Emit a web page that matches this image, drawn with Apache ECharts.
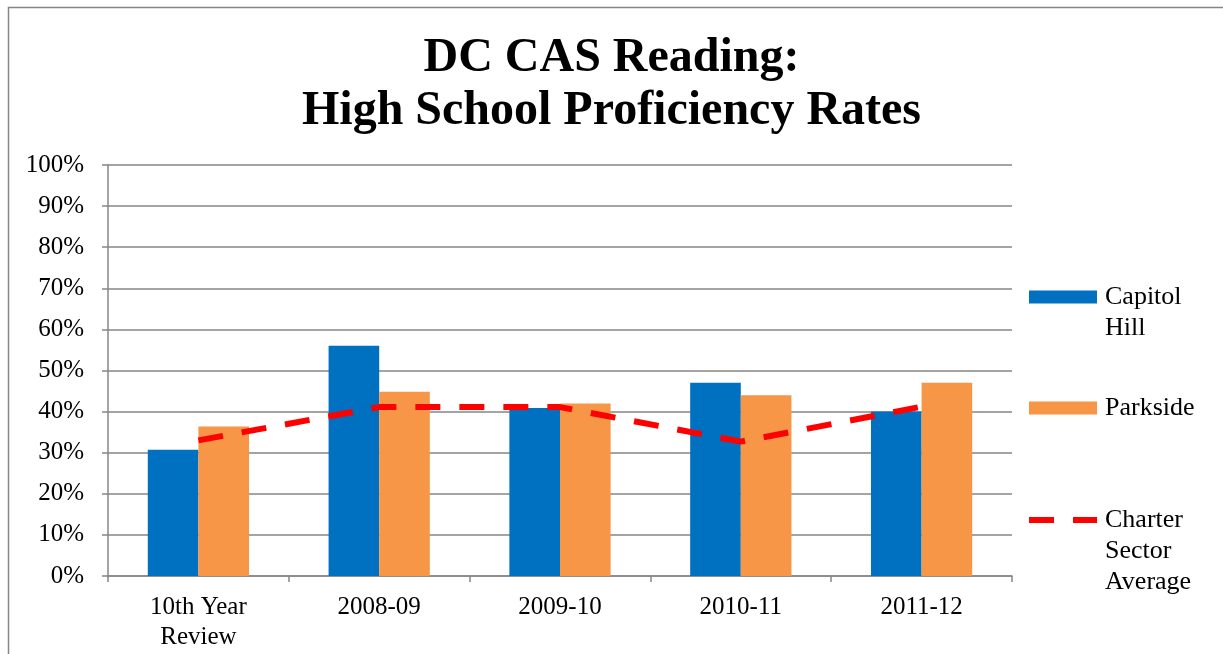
<!DOCTYPE html>
<html>
<head>
<meta charset="utf-8">
<script src="https://cdn.jsdelivr.net/npm/echarts@6/dist/echarts.min.js"></script>
<style>
  html, body { margin: 0; padding: 0; background: #fff; }
  #chart { width: 1223px; height: 654px; }
</style>
</head>
<body>
<div id="chart"></div>
<script>
// Data
const years = ["10th Year\nReview", "2008-09", "2009-10", "2010-11", "2011-12"];
const capitolHill = [30.7, 56, 40.9, 47, 40];
const parkside = [36.4, 44.8, 42, 44, 47];
const charterAverage = [33, 41.1, 41.1, 32.7, 41.2];

const serif = "'Liberation Serif', 'Times New Roman', serif";
const axisGray = "#868686";

let chart = echarts.init(document.getElementById("chart"));

function legendAt(name, top, left, padLeft, extra) {
  // multi-line names: blank lines on top so the icon sits on the first line
  let lines = name.split("\n").length;
  let lg = {
    data: [name],
    left: left,
    top: top - (2 * lines - 1) * 15.5,
    orient: "vertical",
    padding: 0,
    itemWidth: 68,
    itemHeight: 13,
    icon: "rect",
    selectedMode: false,
    formatter: (n) => "\n".repeat(lines - 1) + n,
    textStyle: {
      fontFamily: serif,
      fontSize: 26,
      lineHeight: 31,
      color: "#000",
      padding: [0, 0, 0, padLeft],
    },
  };
  return Object.assign(lg, extra);
}

let option = {
  animation: false,
  backgroundColor: "#fff",
  title: {
    text: "DC CAS Reading:\nHigh School Proficiency Rates",
    left: "center",
    top: 32,
    padding: [0, 0, 0, 30],
    textStyle: {
      fontFamily: serif,
      fontWeight: "bold",
      fontSize: 48,
      lineHeight: 53,
      color: "#000",
    },
  },
  legend: [
    legendAt("Capitol\nHill", 297, 1029, 3),
    legendAt("Parkside", 408, 1029, 3),
    legendAt("Charter\nSector\nAverage", 520, 1026, 3, {
      icon: null,
      itemStyle: { opacity: 0 },
      lineStyle: { width: 6, type: [25, 19], color: "#FF0000" },
    }),
  ],
  grid: {
    left: 108,
    right: 211,
    top: 165,
    bottom: 78,
  },
  xAxis: {
    type: "category",
    data: years,
    axisLine: { lineStyle: { color: axisGray, width: 1.5 } },
    axisTick: { show: true, length: 6, lineStyle: { color: axisGray, width: 1.5 } },
    axisLabel: {
      fontFamily: serif,
      fontSize: 25,
      lineHeight: 30,
      color: "#000",
      margin: 16,
    },
  },
  yAxis: {
    type: "value",
    min: 0,
    max: 100,
    interval: 10,
    axisLine: { show: true, lineStyle: { color: axisGray, width: 1.5 } },
    axisTick: { show: true, length: 6, lineStyle: { color: axisGray, width: 1.5 } },
    splitLine: { lineStyle: { color: axisGray, width: 1.5 } },
    axisLabel: {
      formatter: "{value}%",
      fontFamily: serif,
      fontSize: 25,
      color: "#000",
      margin: 24,
    },
  },
  series: [
    {
      name: "Capitol\nHill",
      type: "bar",
      data: capitolHill,
      barGap: "0%",
      barCategoryGap: "44%",
      itemStyle: { color: "#0070C0" },
    },
    {
      name: "Parkside",
      type: "bar",
      data: parkside,
      itemStyle: { color: "#F79646" },
    },
    {
      name: "Charter\nSector\nAverage",
      type: "line",
      data: charterAverage,
      symbol: "none",
      z: 5,
      itemStyle: { color: "#FF0000" },
      lineStyle: { color: "#FF0000", width: 6, type: [25, 19] },
    },
  ],
  graphic: [
    {
      type: "rect",
      shape: { x: 8.5, y: 7.5, width: 1300, height: 700 },
      style: { fill: null, stroke: axisGray, lineWidth: 1.5 },
      silent: true,
    },
  ],
};

chart.setOption(option);
</script>
</body>
</html>
